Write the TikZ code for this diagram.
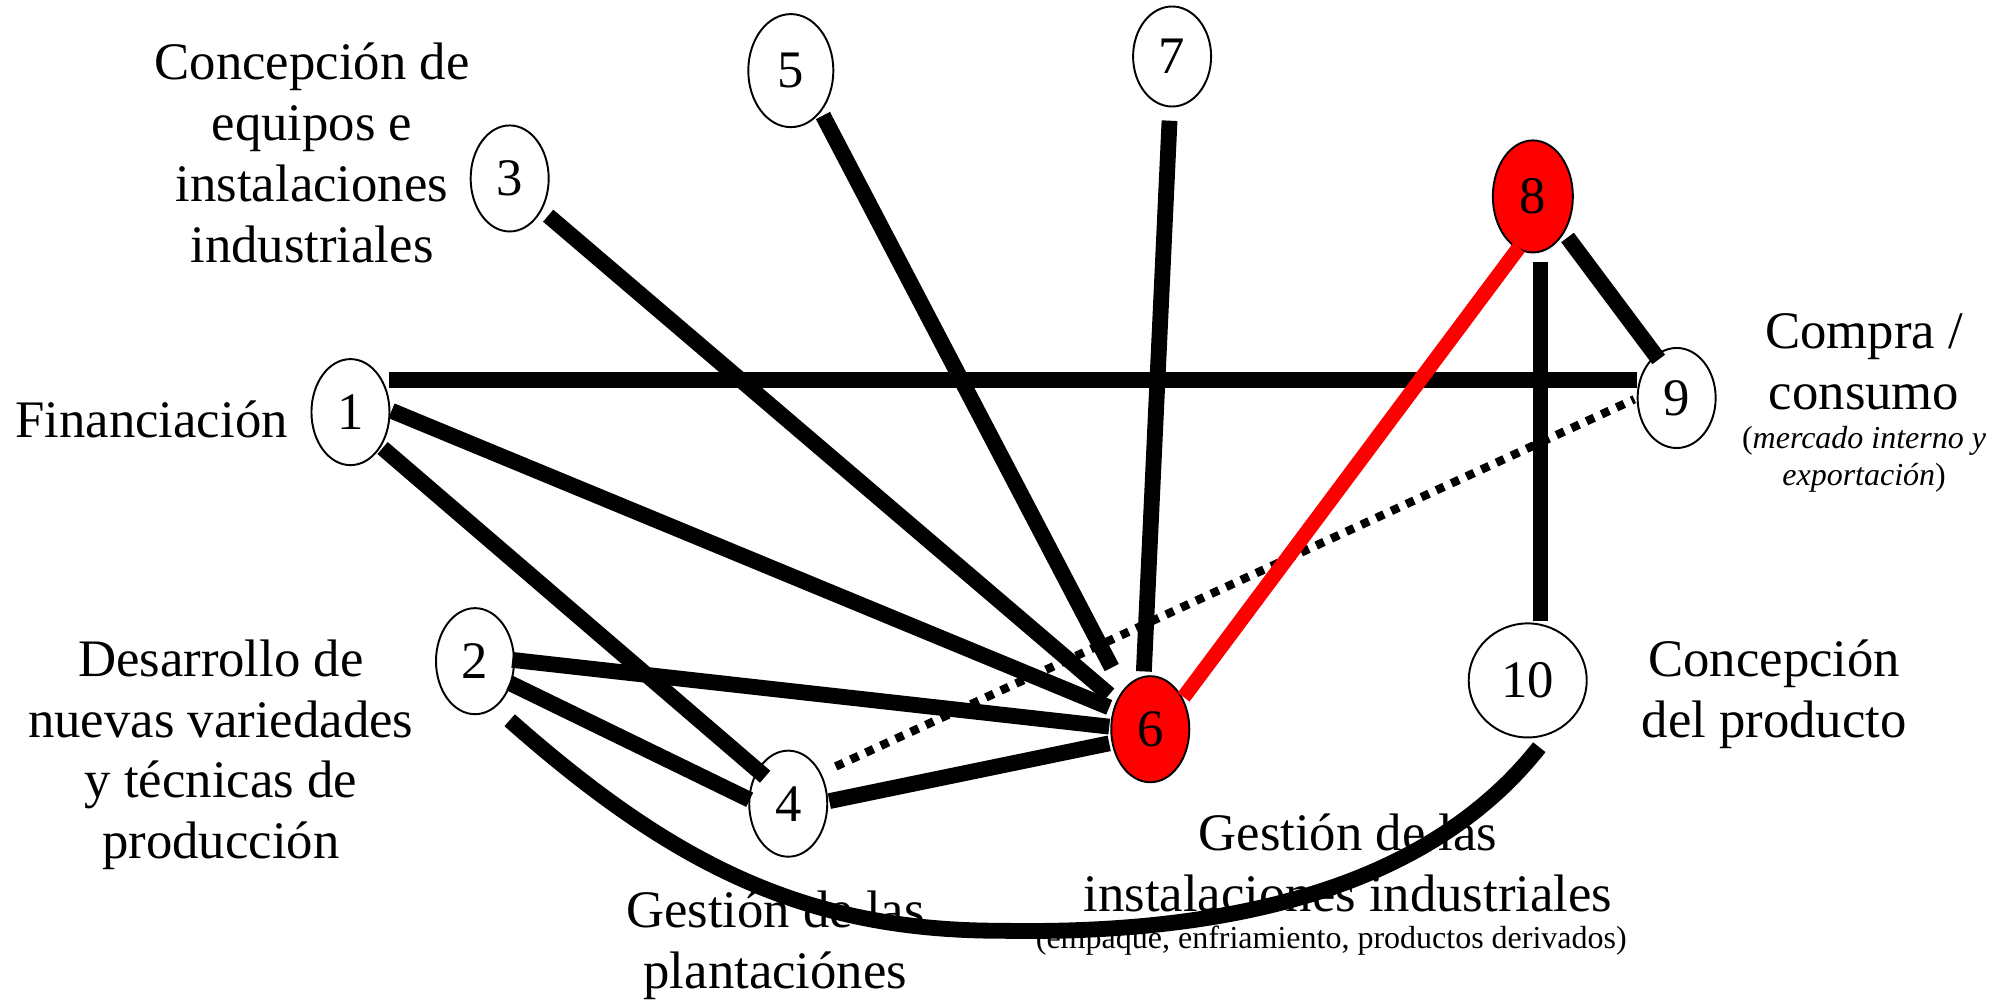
\documentclass[tikz,border=0pt]{standalone}
\usepackage{fontspec}
\setmainfont{Liberation Serif}
\usetikzlibrary{shapes.geometric}
\tikzset{
  num/.style={ellipse, draw, line width=0.55pt, fill=white, minimum width=0.78cm, minimum height=1.06cm, inner sep=0pt, font=\fontsize{15}{17}\selectfont},
  hot/.style={num, fill=red},
  lbl/.style={align=center, inner sep=0pt, font=\fontsize{15}{17.3}\selectfont},
  smalllbl/.style={align=center, inner sep=0pt, font=\fontsize{9.1}{10.6}\selectfont},
  edge/.style={line width=4.5pt},
  hotedge/.style={line width=4.2pt, red},
  dotedge/.style={line width=2.4pt, dash pattern=on 2.4pt off 2.3pt}
}
\begin{document}
\begin{tikzpicture}[x=0.012838cm, y=-0.012838cm]
\useasboundingbox (0,0) rectangle (1568,781);
% labels
\node[lbl] (tConc) at (243,119) {Concepción de\\equipos e\\instalaciones\\industriales};
\node[lbl] (tFin) at (118,327) {Financiación};
\node[lbl] (tDes) at (172,588) {Desarrollo de\\nuevas variedades\\y técnicas de\\producción};
\node[lbl] (tPlant) at (604,736) {Gestión de las\\plantaciónes};
\node[lbl] (tInst) at (1050,672) {Gestión de las\\instalaciones industriales};
\node[smalllbl] (tInstSub) at (1037,733) {(empaque, enfriamiento, productos derivados)};
\node[lbl] (tCompra) at (1452,282) {Compra /\\consumo};
\node[smalllbl] (tCompraSub) at (1452,358) {(\textit{mercado interno y}\\\textit{exportación})};
\node[lbl] (tProd) at (1382,541) {Concepción\\del producto};
% nodes
\node[num] (n1) at (273,321) {1};
\node[num] (n2) at (370,515) {2};
\node[num] (n3) at (397,139) {3};
\node[num] (n4) at (614,626) {4};
\node[num, minimum width=0.85cm, minimum height=1.13cm] (n5) at (616,55) {5};
\node[hot] (n6) at (896,568) {6};
\node[num, minimum height=1.0cm] (n7) at (913,44) {7};
\node[hot, minimum width=0.8cm, minimum height=1.12cm] (n8) at (1194,153) {8};
\node[num, minimum height=1.0cm] (n9) at (1306,310) {9};
\node[num, minimum width=1.18cm, minimum height=1.14cm] (n10) at (1190,530) {10};
% connectors
\draw[edge] ([shift={(30,-25)}]n1.center) -- ([shift={(-31,-14)}]n9.center);
\draw[edge] ([shift={(32,-1)}]n1.center) -- ([shift={(-32,-17)}]n6.center);
\draw[edge] ([shift={(25,28)}]n1.center) -- ([shift={(-18,-21)}]n4.center);
\draw[edge] ([shift={(30,29)}]n3.center) -- ([shift={(-32,-27)}]n6.center);
\draw[edge] ([shift={(25,35)}]n5.center) -- ([shift={(-30,-48)}]n6.center);
\draw[edge] ([shift={(-2,50)}]n7.center) -- ([shift={(-5,-45)}]n6.center);
\draw[edge] ([shift={(29,-1)}]n2.center) -- ([shift={(-32,-2)}]n6.center);
\draw[edge] ([shift={(27,17)}]n2.center) -- ([shift={(-30,-3)}]n4.center);
\draw[edge] ([shift={(32,-2)}]n4.center) -- ([shift={(-32,11)}]n6.center);
\draw[dotedge] ([shift={(37,-29)}]n4.center) -- ([shift={(-33,1)}]n9.center);
\draw[hotedge] ([shift={(26,-25)}]n6.center) -- ([shift={(-11,40)}]n8.center);
\draw[edge] ([shift={(6,51)}]n8.center) -- ([shift={(10,-46)}]n10.center);
\draw[edge] ([shift={(27,32)}]n8.center) -- ([shift={(-14,-30)}]n9.center);
\draw[edge] ([shift={(27,46)}]n2.center) .. controls (527,676) and (630,725) .. (780,725)
  .. controls (950,728) and (1110,695) .. ([shift={(9,52)}]n10.center);
\end{tikzpicture}
\end{document}
